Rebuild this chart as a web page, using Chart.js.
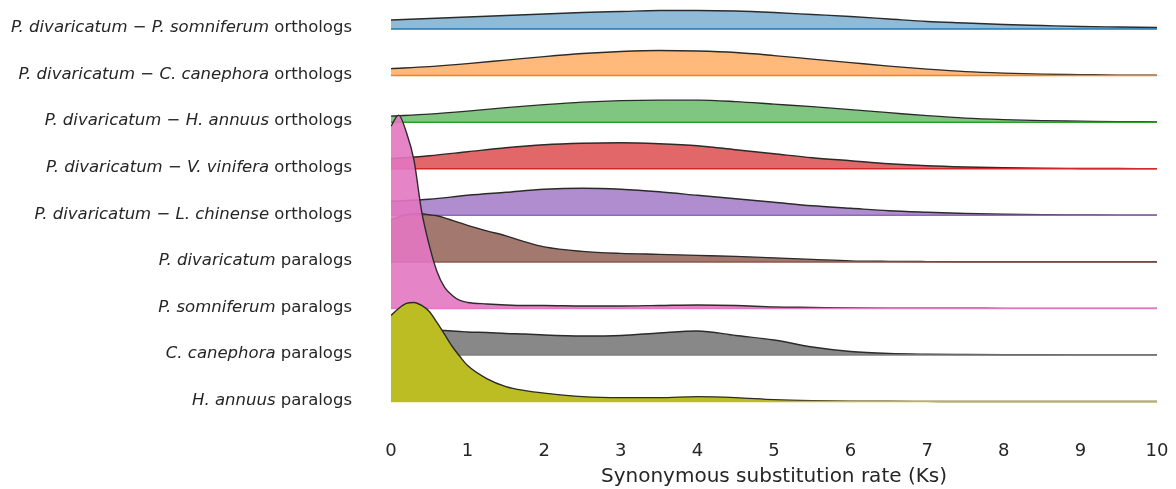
<!DOCTYPE html>
<html>
<head>
<meta charset="utf-8">
<script src="https://cdn.jsdelivr.net/npm/chart.js@4.4.1/dist/chart.umd.min.js"></script>
<style>
  html, body { margin: 0; padding: 0; background: #fff; }
  #wrap { width: 1176px; height: 489px; position: relative; }
</style>
</head>
<body>
<div id="wrap"><canvas id="ridgeChart"></canvas></div>
<script>
// Ks grids (smooth rows use the coarse one, peaked rows the fine one)
const ksCoarse = [0, 0.5, 1, 1.5, 2, 2.5, 3, 3.5, 4, 4.5, 5, 5.5, 6, 6.5, 7, 7.5, 8, 8.5, 9, 9.5, 10];
const ksFine = [0, 0.1, 0.2, 0.3, 0.4, 0.5, 0.6, 0.7, 0.8, 0.9, 1, 1.25, 1.5, 1.75, 2, 2.5, 3, 3.5, 4, 4.5, 5, 5.5, 6, 6.5, 7, 7.5, 8, 8.5, 9, 9.5, 10];
const xTicks = [0, 1, 2, 3, 4, 5, 6, 7, 8, 9, 10];

// ridge heights (density, arbitrary units)
const psomOrtho = [9, 10.5, 12, 13.5, 15, 16.5, 17.5, 18.5, 18.5, 18, 16.5, 14.5, 12.5, 10, 7.5, 6, 4.5, 3.5, 2.5, 2, 1.5];
const ccanOrtho = [7, 9, 12, 15.5, 19, 22, 24, 25, 24.5, 23, 20, 16.5, 13, 9.5, 6.5, 4, 2.5, 1.5, 1, 0.5, 0.3];
const hannOrtho = [6, 8, 11, 14.5, 17.5, 20, 21.5, 22, 22, 20.5, 18, 15.5, 12.5, 9.5, 6.5, 4, 2.5, 1.5, 1, 0.5, 0.3];
const vvinOrtho = [10, 13, 17, 21, 24, 25.5, 26, 25, 23, 19, 15, 11, 8, 5, 3, 1.8, 1, 0.5, 0.3, 0.2, 0.1];
const lchiOrtho = [14, 16, 20, 23, 26, 27, 26, 23.5, 20, 16.5, 13, 9.5, 7, 4.5, 3, 1.8, 1, 0.6, 0.4, 0.2, 0.1];
const pdivPara = [42, 45, 47, 48, 48, 47, 46, 44, 41.5, 39, 36.5, 31, 26, 20, 15, 10.5, 8.5, 7.5, 6.5, 5.5, 4, 2.5, 1, 0.5, 0.3, 0.2, 0.2, 0.1, 0.1, 0.1, 0.1];
const psomPara = [182, 193, 176, 148, 97, 63, 37, 21, 13, 8, 6, 4.5, 3.5, 3, 3, 2.5, 2.5, 3, 3.5, 3, 1.5, 1, 0.5, 0.3, 0.2, 0.2, 0.1, 0.1, 0.1, 0.1, 0.1];
const ccanPara = [28, 29, 29, 28, 27, 26, 25, 24.5, 24, 23.5, 23, 22.5, 21.5, 21, 20, 19, 19.5, 22, 24, 19.5, 15, 8, 3.5, 1.5, 0.8, 0.5, 0.3, 0.2, 0.1, 0.1, 0.1];
const hannPara = [86, 93, 98, 99, 96, 90, 79, 67, 55, 45, 36, 23, 15, 11, 8.5, 5, 4, 4, 5, 4, 2, 1, 0.5, 0.3, 0.2, 0.1, 0.1, 0.1, 0.1, 0.1, 0.1];

// row labels: [text, italic?] pieces
const rowLabels = [
    [['P. divaricatum', true], [' \u2212 ', false], ['P. somniferum', true], [' orthologs', false]],
    [['P. divaricatum', true], [' \u2212 ', false], ['C. canephora', true], [' orthologs', false]],
    [['P. divaricatum', true], [' \u2212 ', false], ['H. annuus', true], [' orthologs', false]],
    [['P. divaricatum', true], [' \u2212 ', false], ['V. vinifera', true], [' orthologs', false]],
    [['P. divaricatum', true], [' \u2212 ', false], ['L. chinense', true], [' orthologs', false]],
    [['P. divaricatum', true], [' paralogs', false]],
    [['P. somniferum', true], [' paralogs', false]],
    [['C. canephora', true], [' paralogs', false]],
    [['H. annuus', true], [' paralogs', false]]
];

const rows = [
    { ks: ksCoarse, h: psomOrtho, rgb: [31, 119, 180], a: 0.5 },
    { ks: ksCoarse, h: ccanOrtho, rgb: [255, 127, 14], a: 0.55 },
    { ks: ksCoarse, h: hannOrtho, rgb: [44, 160, 44], a: 0.6 },
    { ks: ksCoarse, h: vvinOrtho, rgb: [214, 39, 40], a: 0.7 },
    { ks: ksCoarse, h: lchiOrtho, rgb: [148, 103, 189], a: 0.75 },
    { ks: ksFine, h: pdivPara, rgb: [140, 86, 75], a: 0.8 },
    { ks: ksFine, h: psomPara, rgb: [227, 119, 194], a: 0.9 },
    { ks: ksFine, h: ccanPara, rgb: [127, 127, 127], a: 0.93 },
    { ks: ksFine, h: hannPara, rgb: [188, 189, 34], a: 1 }
];

const ROW_STEP = 46.5;
const baseOf = i => (rows.length - 1 - i) * ROW_STEP;

const datasets = [];
rows.forEach((r, i) => {
    const base = baseOf(i);
    const solid = `rgb(${r.rgb.join(',')})`;
    // ridge (lower rows are drawn on top)
    datasets.push({
        data: r.ks.map((k, j) => ({ x: k, y: base + r.h[j] })),
        backgroundColor: `rgba(${r.rgb.join(',')},${r.a})`,
        borderColor: '#2b2b2b',
        borderWidth: 1.4,
        fill: { value: base },
        cubicInterpolationMode: 'monotone',
        pointRadius: 0,
        order: 20 - 2 * i
    });
    // baseline
    datasets.push({
        data: [{ x: xTicks[0], y: base }, { x: xTicks[xTicks.length - 1], y: base }],
        borderColor: solid,
        borderWidth: 1.5,
        fill: false,
        pointRadius: 0,
        order: 19 - 2 * i
    });
});

const rowLabelPlugin = {
    id: 'rowLabels',
    afterDraw(chart) {
        const ctx = chart.ctx;
        const yScale = chart.scales.y;
        const right = chart.chartArea.left - 39;
        ctx.save();
        ctx.fillStyle = '#262626';
        ctx.textBaseline = 'middle';
        ctx.textAlign = 'left';
        rowLabels.forEach((parts, i) => {
            const y = yScale.getPixelForValue(baseOf(i)) - 1;
            const widths = parts.map(([t, it]) => {
                ctx.font = `${it ? 'italic ' : ''}16.5px "DejaVu Sans"`;
                return ctx.measureText(t).width;
            });
            let x = right - widths.reduce((s, w) => s + w, 0);
            parts.forEach(([t, it], j) => {
                ctx.font = `${it ? 'italic ' : ''}16.5px "DejaVu Sans"`;
                ctx.fillText(t, x, y);
                x += widths[j];
            });
        });
        ctx.restore();
    }
};

new Chart(document.getElementById('ridgeChart'), {
    type: 'line',
    data: { datasets },
    options: {
        responsive: true,
        maintainAspectRatio: false,
        animation: false,
        layout: { padding: { left: 391, right: 19, top: 6, bottom: 0 } },
        plugins: { legend: { display: false }, tooltip: { enabled: false } },
        scales: {
            x: {
                type: 'linear',
                min: 0,
                max: 10,
                afterBuildTicks: s => { s.ticks = xTicks.map(v => ({ value: v })); },
                afterFit: s => { s.height = 79; s.paddingLeft = 0; s.paddingRight = 0; },
                grid: { display: false, drawTicks: false },
                border: { display: false },
                ticks: { padding: 31, color: '#262626', font: { family: 'DejaVu Sans', size: 18 } },
                title: {
                    display: true,
                    text: 'Synonymous substitution rate (Ks)',
                    color: '#262626',
                    font: { family: 'DejaVu Sans', size: 20 },
                    padding: { top: 3, bottom: 0 }
                }
            },
            y: {
                type: 'linear',
                display: false,
                min: -8.4,
                max: 395
            }
        }
    },
    plugins: [rowLabelPlugin]
});
</script>
</body>
</html>
